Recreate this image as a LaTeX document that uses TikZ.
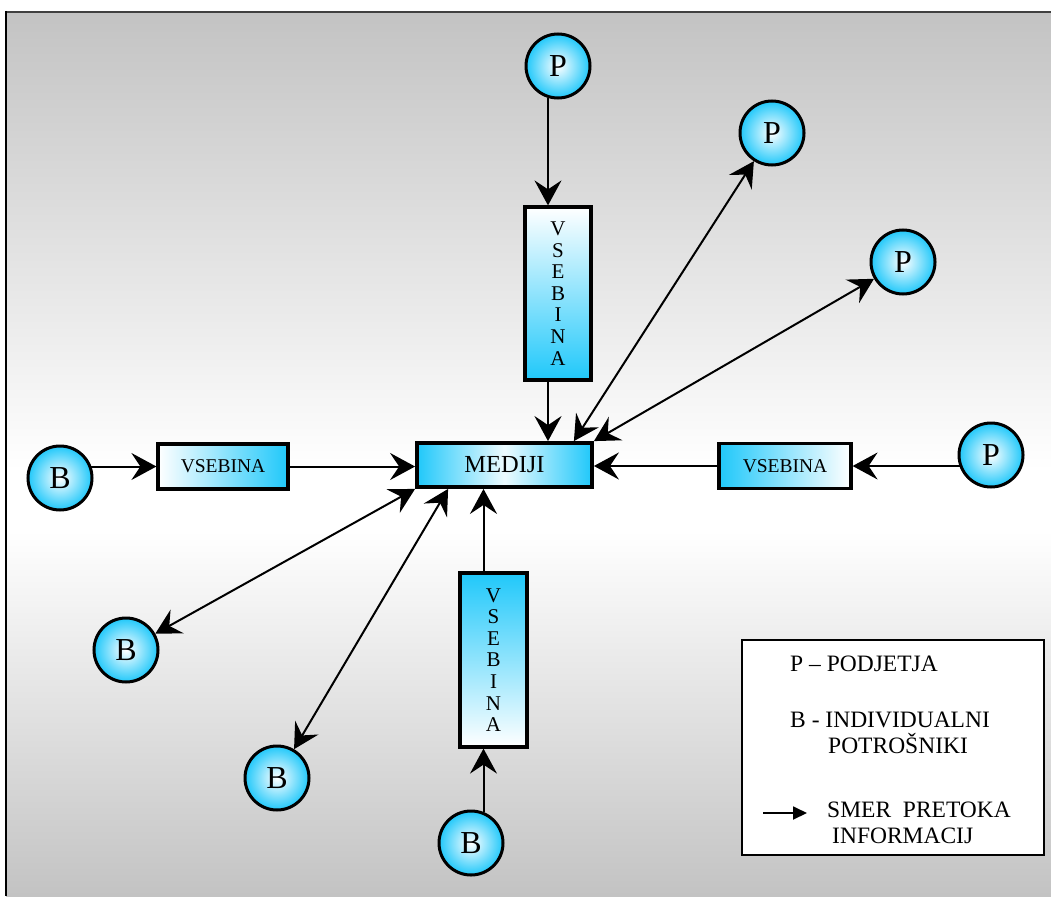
\documentclass[tikz,border=0pt]{standalone}
\usepackage{fontspec}
\setmainfont{Liberation Serif}
\usetikzlibrary{arrows.meta,calc}
\definecolor{cyanM}{RGB}{32,200,250}
\definecolor{bgGray}{RGB}{195,195,195}
\begin{document}
\begin{tikzpicture}[x=1pt,y=-1pt,
  flow/.style={line width=2pt, -{Stealth[length=25pt,width=27pt,inset=9pt]}},
  both/.style={line width=2pt, {Stealth[length=25pt,width=27pt,inset=9pt]}-{Stealth[length=25pt,width=27pt,inset=9pt]}},
  party/.style={circle, draw, line width=3pt, minimum size=64pt, inner sep=0pt, inner color=white, outer color=cyanM, font=\fontsize{32}{34}\selectfont},
  hbox/.style={draw, line width=3.2pt, minimum width=130pt, minimum height=45pt, inner sep=0pt, font=\fontsize{19.5}{21}\selectfont},
  vbox/.style={draw, line width=3.2pt, minimum width=66pt, minimum height=173pt, inner sep=0pt, align=center, font=\fontsize{21}{21.6}\selectfont},
  legtext/.style={anchor=base west, inner sep=0pt, font=\fontsize{23.5}{25}\selectfont},
]
\useasboundingbox (0,0) rectangle (1051,896);
\fill[white] (0,0) rectangle (1051,896);
\shade[top color=bgGray, bottom color=white] (6,12) rectangle (1051,470);
\fill[white] (6,469) rectangle (1051,531);
\shade[top color=white, bottom color=bgGray] (6,530) rectangle (1051,896);
\draw[line width=2pt, black!75] (5,12) -- (1051,12);
\draw[line width=2pt, black] (6,11) -- (6,896);

% center
\node[hbox, minimum width=175pt, minimum height=44pt, line width=3.8pt, font=\fontsize{24.5}{26}\selectfont,
      left color=cyanM, right color=cyanM, middle color=cyanM!8] (M) at (504.5,465) {MEDIJI};

% content boxes
\node[hbox, left color=white, right color=cyanM] (V1) at (223,466.5) {VSEBINA};
\node[hbox, minimum width=132pt, left color=cyanM, right color=white] (V2) at (785,466) {VSEBINA};
\node[vbox, top color=white, bottom color=cyanM] (VT) at (558,293.5) {V\\S\\E\\B\\I\\N\\A};
\node[vbox, minimum width=67pt, minimum height=174pt, top color=cyanM, bottom color=white] (VB) at (493.5,660) {V\\S\\E\\B\\I\\N\\A};

% arrows (behind circles)
\draw[flow] ([xshift=-10pt]VT.north |- 0,98) coordinate (ptb) -- ([xshift=-10pt]VT.north);
\draw[flow] ([xshift=-10pt]VT.south) -- ([xshift=-10pt]VT.south |- M.north);
\draw[flow] ([xshift=-10pt]VB.south |- 0,812) coordinate (b4t) -- ([xshift=-10pt]VB.south);
\draw[flow] ([xshift=-10pt]VB.north) -- ([xshift=-10pt]VB.north |- M.south);
\draw[flow] (V1.west -| 91,0) coordinate (b1e) -- (V1.west);
\draw[flow] (V1.east) -- (V1.east -| M.west);
\draw[flow] (V2.east -| 961,0) coordinate (p3w) -- (V2.east);
\draw[flow] (V2.west) -- (V2.west -| M.east);

% parties
\node[party] (PT) at (558,66) {P};
\node[party] (P1) at (772,133) {P};
\node[party] (P2) at (903,262) {P};
\node[party] (P3) at (991,455) {P};
\node[party] (B1) at (60,478) {B};
\node[party] (B2) at (126,650) {B};
\node[party] (B3) at (277,778) {B};
\node[party] (B4) at (471,843) {B};

% two-way arrows
\coordinate (m1) at ([xshift=-20pt]M.north east);
\coordinate (m2) at (M.north east);
\coordinate (m3) at (M.south west);
\coordinate (m4) at ([xshift=33pt]M.south west);
\draw[both] (m1) -- (P1);
\draw[both] (m2) -- (P2);
\draw[both] (B2) -- (m3);
\draw[both] (B3) -- (m4);

% legend
\node[draw, line width=1.2pt, fill=white, minimum width=302pt, minimum height=215pt, inner sep=0pt] (L) at (893,747.5) {};
\node[legtext] (l1) at (790,671) {P – PODJETJA};
\node[legtext] (l2) at (790,727) {B - INDIVIDUALNI};
\node[legtext] (l3) at (828,753) {POTROŠNIKI};
\node[legtext] (l4) at (827,817) {SMER\ \ PRETOKA};
\node[legtext] (l5) at (832,843) {INFORMACIJ};
\coordinate (la) at (763,813);
\coordinate (lb) at (807,813);
\draw[line width=1.8pt, -{Triangle[length=14pt,width=13pt]}] (la) -- (lb);
\end{tikzpicture}
\end{document}
